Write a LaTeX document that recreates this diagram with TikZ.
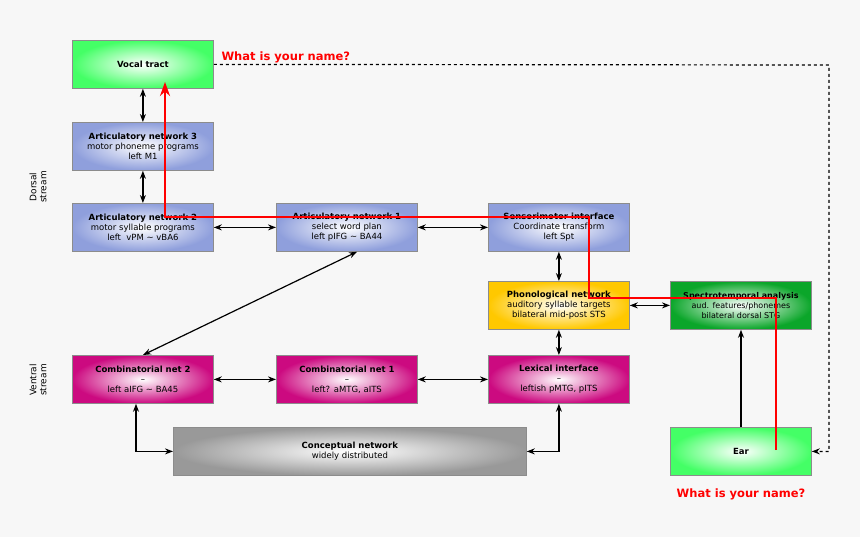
\documentclass[tikz,border=0pt]{standalone}
\usepackage{fontspec}
\setmainfont{DejaVu Sans}
\usetikzlibrary{arrows.meta}
\definecolor{bg}{HTML}{F7F7F7}
\definecolor{cblue}{HTML}{8F9FDC}
\definecolor{cgreen}{HTML}{44FF66}
\definecolor{cdgreen}{HTML}{0BA62A}
\definecolor{cyel}{HTML}{FFC800}
\definecolor{cmag}{HTML}{CC0A80}
\definecolor{cgray}{HTML}{999999}
\tikzset{
 box/.style={draw=black!45,line width=0.8pt,minimum width=141pt,minimum height=48pt,inner sep=1pt,
   align=center,font=\fontsize{8.5}{10}\selectfont,anchor=north west,shading=radial,inner color=white},
 ar/.style={-{Stealth[length=8pt,width=6pt]},line width=1.2pt},
 dar/.style={{Stealth[length=8pt,width=6pt]}-{Stealth[length=8pt,width=6pt]},line width=1.2pt},
 red/.style={draw=red,line width=2.6pt},
 rtxt/.style={text=red,font=\bfseries\fontsize{11.5}{13}\selectfont},
 side/.style={rotate=90,align=center,font=\fontsize{9}{10}\selectfont}
}
\begin{document}
\begin{tikzpicture}[x=1pt,y=-1pt]
\fill[bg] (0,0) rectangle (860,537);
\useasboundingbox (0,0) rectangle (860,537);
\node[box,outer color=cgreen] (vt) at (72,40) {\textbf{Vocal tract}};
\node[box,outer color=cblue] (a3) at (72,122) {\textbf{Articulatory network 3}\\motor phoneme programs\\left M1};
\node[box,outer color=cblue] (a2) at (72,203) {\textbf{Articulatory network 2}\\motor syllable programs\\left\ \ vPM \~{} vBA6};
\node[box,outer color=cblue] (a1) at (276,203) {\textbf{Articulatory network 1}\\select word plan\\left pIFG \~{} BA44};
\node[box,outer color=cblue] (sm) at (488,203) {\textbf{Sensorimotor interface}\\Coordinate transform\\left Spt};
\node[box,outer color=cyel] (ph) at (488,281) {\textbf{Phonological network}\\auditory syllable targets\\bilateral mid-post STS};
\node[box,outer color=cdgreen,font=\fontsize{8}{10}\selectfont] (sp) at (670,281) {\textbf{Spectrotemporal analysis}\\aud. features/phonemes\\bilateral dorsal STG};
\node[box,outer color=cmag] (c2) at (72,355) {\textbf{Combinatorial net 2}\\--\\left aIFG \~{} BA45};
\node[box,outer color=cmag] (c1) at (276,355) {\textbf{Combinatorial net 1}\\--\\left? aMTG, aITS};
\node[box,outer color=cmag] (lx) at (488,355) {\textbf{Lexical interface}\\--\\leftish pMTG, pITS};
\node[box,outer color=cgray,minimum width=353pt] (cn) at (173,427) {\textbf{Conceptual network}\\widely distributed};
\node[box,outer color=cgreen] (ear) at (670,427) {\textbf{Ear}};
\node[side] (ds) at (38,187) {Dorsal\\stream};
\node[side] (vs) at (38,380) {Ventral\\stream};
\draw[dar] (vt.south) -- (a3.north);
\draw[dar] (a3.south) -- (a2.north);
\draw[dar] (a2.east) -- (a1.west);
\draw[dar] (a1.east) -- (sm.west);
\draw[dar] (sm.south) -- (ph.north);
\draw[dar] (ph.east) -- (sp.west);
\draw[dar] (ph.south) -- (lx.north);
\draw[ar] (ear.north -| 741,0) -- (sp.south -| 741,0);
\draw[dar] (c2.east) -- (c1.west);
\draw[dar] (c1.east) -- (lx.west);
\draw[dar] (c2.north -| 143,0) -- (a1.south -| 357,0);
\draw[dar] (c2.south -| 136,0) |- (cn.west);
\draw[dar] (lx.south) |- (cn.east);
\coordinate (dc) at (829,65);
\draw[dashed,line width=1.2pt,-{Stealth[length=8pt,width=6pt]}] (vt.east) -- (dc) |- (ear.east);
\coordinate (r0) at (776,450);
\draw[red,-{Stealth[length=14pt,width=10pt]}] (r0) |- (589,298) |- (165,217) -- (165,82);
\node[rtxt,anchor=west] (t1) at (218,57) {What is your name?};
\node[rtxt] (t2) at (741,494) {What is your name?};
\end{tikzpicture}
\end{document}
